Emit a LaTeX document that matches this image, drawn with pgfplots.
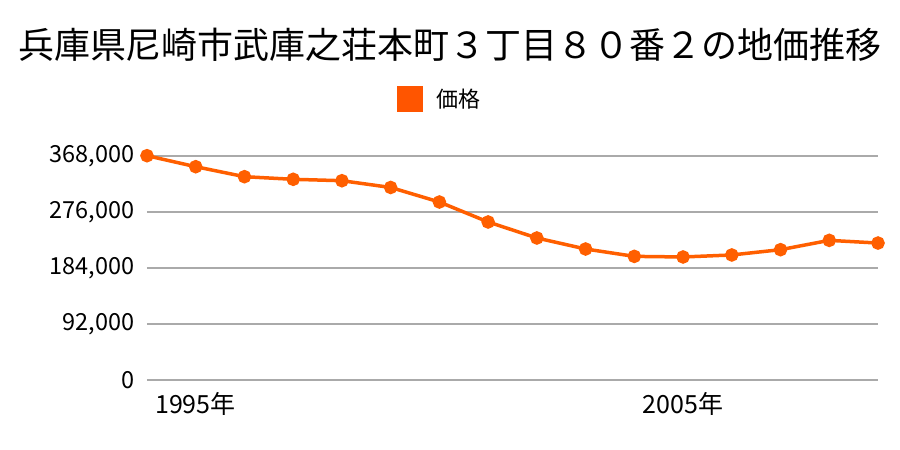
\documentclass[border=0pt]{standalone}
\usepackage{pgfplots}
\pgfplotsset{compat=1.18}
\usepackage{fontspec}
\setmainfont{Noto Sans CJK JP}
\definecolor{lineor}{HTML}{FF5F00}
\definecolor{legor}{HTML}{FF5500}
\definecolor{gridg}{HTML}{AAAAAA}
\begin{document}
\begin{tikzpicture}[x=1pt,y=1pt]
\useasboundingbox (0,0) rectangle (900,450);
\node[font=\fontsize{36}{40}\selectfont, inner sep=0pt] at (450,405) {兵庫県尼崎市武庫之荘本町３丁目８０番２の地価推移};
\begin{axis}[
  at={(147pt,70pt)}, anchor=south west, scale only axis,
  width=731pt, height=224pt,
  xmin=1995, xmax=2010, ymin=0, ymax=368000,
  clip=false,
  axis line style={draw=none},
  major tick style={draw=none},
  ymajorgrids, grid style={gridg, line width=1.5pt},
  ytick={0,92000,184000,276000,368000},
  scaled y ticks=false,
  /pgf/number format/fixed,
  /pgf/number format/1000 sep={,},
  /pgf/number format/assume math mode=true,
  yticklabel style={font=\fontsize{23.5}{27}\selectfont, xshift=-9pt},
  xtick={1995,2005}, xticklabels={1995年,2005年},
  xticklabel style={font=\fontsize{25}{28}\selectfont, anchor=north west, inner sep=0pt, xshift=8pt, yshift=-12pt},
  legend image code/.code={\fill[legor] (0pt,-11pt) rectangle (22pt,11pt);},
  legend style={at={(axis description cs:0.342,1.254)}, anchor=west, draw=none, fill=none, inner sep=0pt,
    font=\fontsize{22}{26}\selectfont},
  legend cell align=left,
  every axis legend/.append style={/tikz/every odd column/.append style={column sep=12pt}},
]
\addplot[lineor, line width=3.5pt, mark=*, mark size=5pt, mark options={fill=lineor, draw=lineor}] coordinates {
(1995,368500) (1996,350400) (1997,334000) (1998,329700) (1999,327400) (2000,316300)
(2001,292400) (2002,259600) (2003,233300) (2004,215200) (2005,203100) (2006,202100)
(2007,205400) (2008,214100) (2009,229400) (2010,225000)
};
\addlegendentry{価格}
\end{axis}
\end{tikzpicture}
\end{document}
